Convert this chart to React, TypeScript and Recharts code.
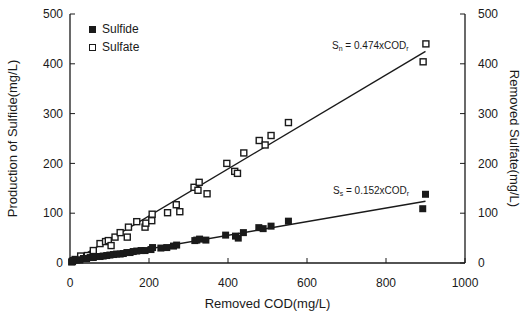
import React from "react";
import {
  ScatterChart, Scatter, XAxis, YAxis,
} from "recharts";

const xTicks = [0, 200, 400, 600, 800, 1000];
const yTicks = [0, 100, 200, 300, 400, 500];

const sulfideX = [4, 8, 17, 25, 34, 42, 51, 59, 67, 76, 84, 93, 101, 110, 118, 127, 135, 144, 152, 160, 169, 180, 190, 205, 209, 230, 245, 262, 270, 316, 321, 328, 344, 394, 419, 426, 439, 478, 489, 509, 553, 893, 900];
const sulfideY = [2, 5, 6, 6, 9, 9, 11, 11, 13, 13, 14, 15, 16, 17, 18, 18, 19, 21, 21, 23, 24, 25, 25, 27, 31, 30, 31, 34, 36, 45, 46, 48, 46, 56, 54, 50, 61, 71, 69, 74, 84, 109, 138];

const sulfateX = [6, 13, 27, 44, 59, 76, 90, 97, 104, 114, 127, 145, 148, 169, 190, 192, 207, 208, 247, 269, 278, 314, 324, 327, 347, 397, 417, 424, 440, 479, 494, 509, 553, 894, 901];
const sulfateY = [3, 7, 14, 15, 25, 39, 43, 45, 35, 52, 61, 52, 72, 83, 72, 80, 85, 98, 101, 117, 103, 152, 146, 162, 139, 200, 184, 180, 221, 246, 237, 256, 282, 404, 440];

// fitted lines (end points)
const fitX = [0, 900];
const sulfideFitY = [1, 124];
const sulfateFitY = [0, 425];

const toPts = (xs: number[], ys: number[]) => xs.map((x, i) => ({ x, y: ys[i] }));

const sulfide = toPts(sulfideX, sulfideY);
const sulfate = toPts(sulfateX, sulfateY);
const sulfideFit = toPts(fitX, sulfideFitY);
const sulfateFit = toPts(fitX, sulfateFitY);

const font = "'Liberation Sans', Arial, sans-serif";
const ink = "#1a1a1a";

const FilledSquare = (p: any) => (
  <rect x={p.cx - 3.5} y={p.cy - 3.5} width={7} height={7} fill={ink} />
);
const OpenSquare = (p: any) => (
  <rect x={p.cx - 3} y={p.cy - 3} width={6} height={6} fill="#fff" stroke={ink} strokeWidth={1.4} />
);
const NoShape = () => null;

const eqStyle: React.CSSProperties = {
  position: "absolute", fontFamily: font, fontSize: 10, color: ink, whiteSpace: "nowrap",
};
const subStyle: React.CSSProperties = { fontSize: 7, verticalAlign: "-2px" };

export default function App() {
  const tickStyle = { fontSize: 12, fill: ink, fontFamily: font };
  const axisLine = { stroke: ink, strokeWidth: 1.3 };
  return (
    <div style={{ position: "absolute", left: 0, top: 0, width: 524, height: 318, background: "#fff" }}>
      <ScatterChart width={524} height={318} margin={{ top: 14, right: 0, left: 0, bottom: 0 }}>
        <XAxis
          dataKey="x" type="number" domain={[0, 1000]} ticks={xTicks} interval={0}
          height={55} tickSize={-5} tickMargin={20} tick={tickStyle}
          axisLine={axisLine} tickLine={{ stroke: ink }}
          label={{ value: "Removed COD(mg/L)", position: "insideBottom", offset: 10, style: { fontSize: 13, fill: ink, fontFamily: font } }}
        />
        <XAxis
          xAxisId="top" orientation="top" dataKey="x" type="number" domain={[0, 1000]}
          height={0} tick={false} tickLine={false} axisLine={axisLine}
        />
        <YAxis
          yAxisId="left" dataKey="y" type="number" domain={[0, 500]} ticks={yTicks} interval={0}
          width={70} tickSize={-5} tickMargin={12} tick={tickStyle}
          axisLine={axisLine} tickLine={{ stroke: ink }}
          label={{ value: "Production of Sulfide(mg/L)", angle: -90, position: "insideLeft", offset: 12, style: { fontSize: 13, fill: ink, fontFamily: font, textAnchor: "middle" } }}
        />
        <YAxis
          yAxisId="right" orientation="right" dataKey="y" type="number" domain={[0, 500]} ticks={yTicks} interval={0}
          width={59} tickSize={-5} tickMargin={18} tick={tickStyle}
          axisLine={axisLine} tickLine={{ stroke: ink }}
          label={{ value: "Removed Sulfate(mg/L)", angle: 90, position: "insideRight", offset: 9, style: { fontSize: 13, fill: ink, fontFamily: font, textAnchor: "middle" } }}
        />
        <Scatter name="Sulfide fit" data={sulfideFit} yAxisId="left" line={{ stroke: ink, strokeWidth: 1.4 }} shape={NoShape} isAnimationActive={false} />
        <Scatter name="Sulfate fit" data={sulfateFit} xAxisId="top" yAxisId="right" line={{ stroke: ink, strokeWidth: 1.4 }} shape={NoShape} isAnimationActive={false} />
        <Scatter name="Sulfate" data={sulfate} yAxisId="right" shape={OpenSquare} isAnimationActive={false} />
        <Scatter name="Sulfide" data={sulfide} yAxisId="left" shape={FilledSquare} isAnimationActive={false} />
      </ScatterChart>
      <div style={{ position: "absolute", left: 89, top: 20, fontFamily: font, fontSize: 12, color: ink, lineHeight: "18px" }}>
        <div style={{ display: "flex", alignItems: "center" }}>
          <span style={{ width: 7, height: 7, background: ink, display: "inline-block", marginRight: 6 }} />
          Sulfide
        </div>
        <div style={{ display: "flex", alignItems: "center" }}>
          <span style={{ width: 5, height: 5, border: `1.2px solid ${ink}`, display: "inline-block", marginRight: 6 }} />
          Sulfate
        </div>
      </div>
      <div style={{ ...eqStyle, left: 332, top: 40 }}>
        S<span style={subStyle}>n</span> = 0.474xCOD<span style={subStyle}>r</span>
      </div>
      <div style={{ ...eqStyle, left: 333, top: 185 }}>
        S<span style={subStyle}>s</span> = 0.152xCOD<span style={subStyle}>r</span>
      </div>
    </div>
  );
}
